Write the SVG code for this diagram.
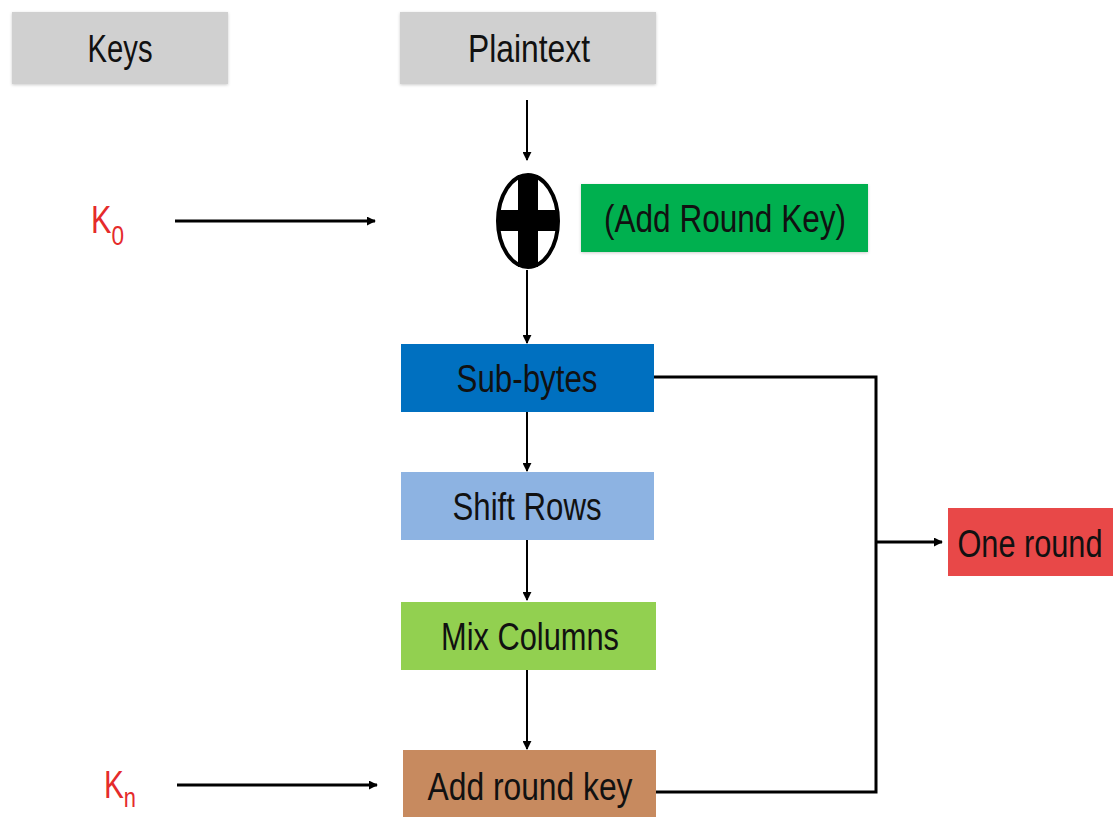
<svg xmlns="http://www.w3.org/2000/svg" width="1113" height="817" viewBox="0 0 1113 817">
<style>
.lbl{font-family:"Liberation Sans Narrow","Liberation Sans",Arial,sans-serif;font-size:38px;fill:#111;text-anchor:middle}
.key{font-family:"Liberation Sans Narrow","Liberation Sans",Arial,sans-serif;fill:#e52b2b;font-size:38px}
.sub{font-size:28px}
.ln{stroke:#000;fill:none}
</style>
<defs>
<marker id="ah2" viewBox="0 0 10 10" refX="9" refY="5" markerWidth="9" markerHeight="9" orient="auto" markerUnits="userSpaceOnUse">
<path d="M0,0 L10,5 L0,10 z" fill="#000"/>
</marker>
<filter id="sh" x="-5%" y="-10%" width="110%" height="125%">
<feDropShadow dx="0" dy="1" stdDeviation="1.5" flood-color="#000" flood-opacity="0.2"/>
</filter>
</defs>
<rect width="1113" height="817" fill="#fff"/>
<g id="connectors">
<line class="ln" x1="527" y1="100" x2="527" y2="160" stroke-width="2" marker-end="url(#ah2)"/>
<line class="ln" x1="175" y1="221" x2="375" y2="221" stroke-width="3" marker-end="url(#ah2)"/>
<line class="ln" x1="527" y1="270" x2="527" y2="343" stroke-width="2" marker-end="url(#ah2)"/>
<line class="ln" x1="527" y1="412" x2="527" y2="471" stroke-width="2" marker-end="url(#ah2)"/>
<line class="ln" x1="527" y1="540" x2="527" y2="600" stroke-width="2" marker-end="url(#ah2)"/>
<line class="ln" x1="527" y1="670" x2="527" y2="749" stroke-width="2" marker-end="url(#ah2)"/>
<line class="ln" x1="177" y1="785" x2="377" y2="785" stroke-width="3" marker-end="url(#ah2)"/>
<polyline class="ln" points="654,377 876,377 876,792 656,792" stroke-width="3"/>
<line class="ln" x1="876" y1="542" x2="942" y2="542" stroke-width="3" marker-end="url(#ah2)"/>
</g>
<g id="keys">
<rect x="12" y="12" width="216" height="72" fill="#d0d0d0" filter="url(#sh)"/>
<text class="lbl" x="120" y="62" textLength="65" lengthAdjust="spacingAndGlyphs">Keys</text>
</g>
<g id="plaintext">
<rect x="400" y="12" width="256" height="72" fill="#d0d0d0" filter="url(#sh)"/>
<text class="lbl" x="529" y="62" textLength="122" lengthAdjust="spacingAndGlyphs">Plaintext</text>
</g>
<g id="k0">
<text class="key" x="91" y="233" textLength="33" lengthAdjust="spacingAndGlyphs">K<tspan class="sub" dy="12">0</tspan></text>
</g>
<g id="xor">
<ellipse cx="528" cy="221" rx="30" ry="46" fill="#fff" stroke="#000" stroke-width="4"/>
<rect x="518" y="175" width="20" height="92" fill="#000"/>
<rect x="498" y="210" width="60" height="21" fill="#000"/>
</g>
<g id="addroundkey0">
<rect x="581" y="184" width="287" height="68" fill="#00b050" filter="url(#sh)"/>
<text class="lbl" x="725" y="232" textLength="242" lengthAdjust="spacingAndGlyphs">(Add Round Key)</text>
</g>
<g id="subbytes">
<rect x="401" y="344" width="253" height="68" fill="#0070c0"/>
<text class="lbl" x="527" y="392" textLength="141" lengthAdjust="spacingAndGlyphs">Sub-bytes</text>
</g>
<g id="shiftrows">
<rect x="401" y="472" width="253" height="68" fill="#8db3e2"/>
<text class="lbl" x="527" y="520" textLength="149" lengthAdjust="spacingAndGlyphs">Shift Rows</text>
</g>
<g id="mixcolumns">
<rect x="401" y="602" width="255" height="68" fill="#92d050"/>
<text class="lbl" x="530" y="650" textLength="178" lengthAdjust="spacingAndGlyphs">Mix Columns</text>
</g>
<g id="kn">
<text class="key" x="104" y="798" textLength="32" lengthAdjust="spacingAndGlyphs">K<tspan class="sub" dy="9">n</tspan></text>
</g>
<g id="addroundkey">
<rect x="403" y="750" width="253" height="72" fill="#c78a5f"/>
<text class="lbl" x="530" y="800" textLength="205" lengthAdjust="spacingAndGlyphs">Add round key</text>
</g>
<g id="oneround">
<rect x="948" y="508" width="165" height="68" fill="#e84848"/>
<text class="lbl" x="1030" y="557" textLength="145" lengthAdjust="spacingAndGlyphs">One round</text>
</g>
</svg>
